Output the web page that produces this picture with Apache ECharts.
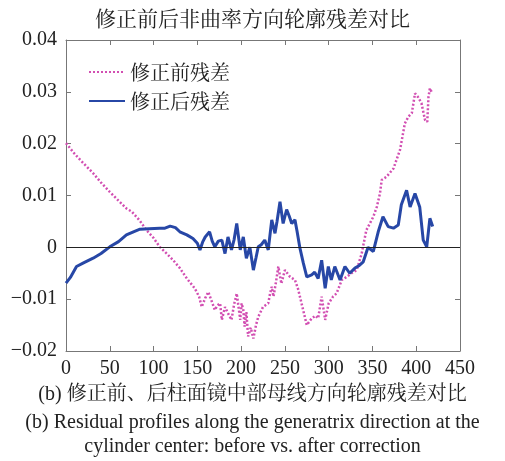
<!DOCTYPE html>
<html>
<head>
<meta charset="utf-8">
<script src="https://cdn.jsdelivr.net/npm/echarts@6/dist/echarts.min.js"></script>
<style>
  html, body { margin: 0; padding: 0; background: #fff; }
  #chart { width: 505px; height: 461px; }
</style>
</head>
<body>
<div id="chart"></div>
<script>
// Residual profile along the generatrix, before correction
const xBefore = [0, 10, 20, 31, 40, 50, 60, 69, 75, 84, 92, 100, 107, 115, 122.5, 130, 138, 147, 152, 155,
  159, 162.5, 166, 170, 173, 176, 178, 181.6, 185, 189, 192, 195, 199, 200.6, 202.5, 204, 206, 208, 211, 214,
  217, 219.6, 225, 231, 233, 235, 237, 240, 242.5, 246, 250, 256, 261.5, 265, 269, 275, 280.6, 285, 288, 292,
  296, 300, 305, 309, 315, 320.6, 326, 332, 337.7, 343, 351, 355, 358.6, 360.6, 366, 374, 381.5, 387, 391, 395,
  398.6, 402, 406, 410, 412.6, 414, 415.6, 417.5];
const yBefore = [0.0201, 0.018, 0.0162, 0.0143, 0.0125, 0.0107, 0.009, 0.0075, 0.0069, 0.0052, 0.0033, 0.0018, 0.0001, -0.0012, -0.0025, -0.004, -0.006, -0.0079, -0.0095, -0.0115,
  -0.0098, -0.0086, -0.0102, -0.0121, -0.0112, -0.0108, -0.014, -0.0115, -0.0127, -0.014, -0.011, -0.0089, -0.014, -0.0108, -0.0121, -0.0153, -0.0125, -0.0172, -0.0155, -0.0176,
  -0.015, -0.0134, -0.0115, -0.0108, -0.009, -0.0076, -0.0095, -0.0065, -0.0037, -0.007, -0.0044, -0.0057, -0.0063, -0.008, -0.0108, -0.015, -0.0137, -0.0132, -0.0137, -0.0095,
  -0.014, -0.0108, -0.0095, -0.0089, -0.0063, -0.0057, -0.005, -0.0044, -0.0012, 0.0033, 0.0059, 0.0078, 0.0104, 0.013, 0.0136, 0.0152, 0.0188, 0.0239, 0.0252, 0.0259,
  0.0297, 0.029, 0.0278, 0.0246, 0.0242, 0.029, 0.0307, 0.03];

// Residual profile along the generatrix, after correction
const xAfter = [0, 5, 12, 20, 31, 40, 50, 60, 69, 77, 84.5, 95, 107, 113, 119, 125, 130, 138, 145, 150,
  153, 156, 159, 164, 167, 170, 174, 178, 181.6, 185, 189, 192, 195, 199, 202.5, 206, 210, 214, 217, 219.6,
  223, 227, 231, 235, 238.7, 241, 244.4, 248, 252, 255, 257.8, 261.5, 264, 267, 271, 275, 280.6, 284, 288, 292,
  296, 299.6, 303, 307, 310, 313, 318.6, 324, 330, 335, 339.5, 345, 351, 356.6, 362, 368, 374, 379.5, 383, 389,
  393, 398.6, 404, 408, 412, 415.6, 418.8];
const yAfter = [-0.0069, -0.0058, -0.0037, -0.003, -0.0021, -0.0012, 0.0001, 0.0011, 0.0024, 0.003, 0.0035, 0.0036, 0.0037, 0.0037, 0.0041, 0.0038, 0.003, 0.0024, 0.0017, 0.0008,
  -0.0005, 0.001, 0.002, 0.003, 0.0012, 0.0001, 0.0012, 0.0014, -0.0012, 0.002, -0.0005, 0.0015, 0.0046, -0.0005, 0.002, -0.0021, 0, -0.0044, -0.002, 0.0001,
  0.0005, 0.0014, -0.0005, 0.0053, 0.0027, 0.005, 0.0088, 0.0046, 0.0073, 0.006, 0.0046, 0.0053, 0.003, 0, -0.003, -0.0057, -0.0053, -0.0048, -0.006, -0.0025,
  -0.0079, -0.0037, -0.0063, -0.0037, -0.005, -0.0063, -0.0037, -0.005, -0.004, -0.0035, -0.0028, 0, -0.0008, 0.003, 0.0059, 0.004, 0.0037, 0.0043, 0.0082, 0.011,
  0.0078, 0.0104, 0.0078, 0.0014, 0.0001, 0.0056, 0.004];

const seriesNames = ['修正前残差', '修正后残差'];
const chartTitle = '修正前后非曲率方向轮廓残差对比';
const captionLines = [
  '(b) 修正前、后柱面镜中部母线方向轮廓残差对比',
  '(b) Residual profiles along the generatrix direction at the',
  'cylinder center: before vs. after correction'
];

const serif = '"Liberation Serif", "Times New Roman", "Noto Serif CJK SC", "Noto Sans CJK SC", serif';
const cjk = '"Noto Serif CJK SC", "Noto Sans CJK SC", serif';

const pairs = (xs, ys) => xs.map((x, i) => [x, ys[i]]);

const fmtY = v => {
  if (Math.abs(v) < 1e-9) return '0';
  return (v < 0 ? '\u2212' : '') + Math.abs(v).toFixed(2);
};

const axisColor = '#777';
const baseX = {
  type: 'value', min: 0, max: 450, interval: 50,
  axisLine: { show: true, onZero: false, lineStyle: { color: axisColor, width: 1 } },
  axisTick: { show: true, inside: true, length: 5, lineStyle: { color: axisColor } },
  splitLine: { show: false }
};
const baseY = {
  type: 'value', min: -0.02, max: 0.04, interval: 0.01,
  axisLine: { show: true, onZero: false, lineStyle: { color: axisColor, width: 1 } },
  axisTick: { show: true, inside: true, length: 5, lineStyle: { color: axisColor } },
  splitLine: { show: false }
};

const chart = echarts.init(document.getElementById('chart'), null, { renderer: 'canvas' });
chart.setOption({
  animation: false,
  backgroundColor: '#fff',
  title: {
    text: chartTitle, left: 'center', top: 3,
    textStyle: { fontSize: 21, fontWeight: 'normal', color: '#222', fontFamily: cjk }
  },
  grid: { left: 66, top: 40, right: 45, bottom: 110, containLabel: false },
  legend: {
    data: seriesNames, orient: 'vertical', left: 83, top: 57,
    itemWidth: 36, itemHeight: 14, itemGap: 9,
    itemStyle: { opacity: 0 },
    textStyle: { fontSize: 20, color: '#222', fontFamily: cjk }
  },
  xAxis: [
    Object.assign({}, baseX, {
      position: 'bottom',
      axisLabel: { fontSize: 20, color: '#222', fontFamily: serif, margin: 8 }
    }),
    Object.assign({}, baseX, { position: 'top', axisLabel: { show: false } })
  ],
  yAxis: [
    Object.assign({}, baseY, {
      position: 'left',
      axisLabel: { fontSize: 20, color: '#222', fontFamily: serif, margin: 9, formatter: fmtY }
    }),
    Object.assign({}, baseY, { position: 'right', axisLabel: { show: false } })
  ],
  series: [
    {
      name: seriesNames[0], type: 'line', xAxisIndex: 0, yAxisIndex: 0,
      data: pairs(xBefore, yBefore), symbol: 'none', smooth: false,
      lineStyle: { color: '#d24fb2', width: 2.5, type: [2, 2] },
      itemStyle: { color: '#d24fb2' },
      markLine: {
        silent: true, symbol: 'none', label: { show: false },
        lineStyle: { color: '#222', width: 1, type: 'solid' },
        data: [{ yAxis: 0 }]
      },
      z: 2
    },
    {
      name: seriesNames[1], type: 'line', xAxisIndex: 0, yAxisIndex: 0,
      data: pairs(xAfter, yAfter), symbol: 'none', smooth: false,
      lineStyle: { color: '#2747a6', width: 3 },
      itemStyle: { color: '#2747a6' },
      z: 3
    }
  ],
  graphic: captionLines.map((t, i) => ({
    type: 'text', left: 'center', top: [385, 413, 437][i],
    style: { text: t, fontSize: 20, fill: '#222', fontFamily: serif }
  }))
});
</script>
</body>
</html>
